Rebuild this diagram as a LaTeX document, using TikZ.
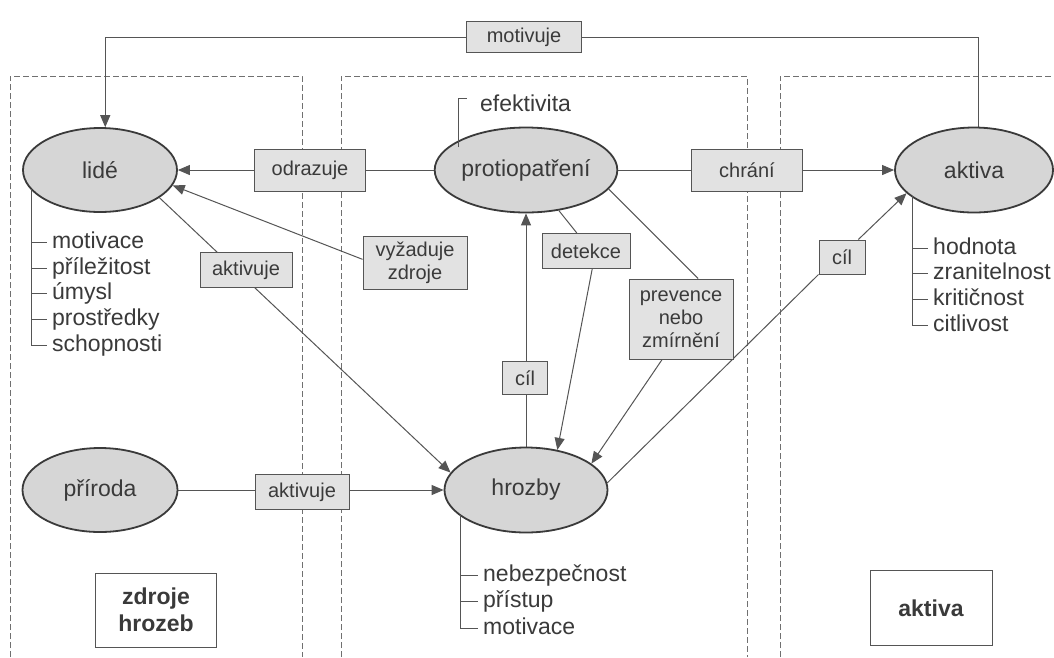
\documentclass[tikz,border=0pt]{standalone}
\usepackage{fontspec}
\setmainfont{Liberation Sans}
\usetikzlibrary{shapes.geometric,arrows.meta,backgrounds}
\definecolor{inkc}{HTML}{3A3A3A}
\definecolor{linec}{HTML}{555555}
\definecolor{ellfill}{HTML}{D6D6D6}
\definecolor{boxfill}{HTML}{E2E2E2}
\definecolor{dashc}{HTML}{707070}
\begin{document}
\begin{tikzpicture}[x=1pt,y=-1pt,
  ell/.style={ellipse,draw=inkc,line width=1.8pt,fill=ellfill,inner sep=0pt,text=inkc,font=\fontsize{23}{27}\selectfont},
  lbl/.style={rectangle,draw=linec,line width=1pt,fill=boxfill,inner sep=0pt,text=inkc,font=\fontsize{20}{23}\selectfont,align=center},
  ttl/.style={rectangle,draw=linec,line width=1pt,fill=white,inner sep=0pt,text=inkc,font=\fontsize{23}{27}\selectfont\bfseries,align=center},
  item/.style={anchor=base west,inner xsep=5pt,inner ysep=0pt,text=inkc,font=\fontsize{23}{27}\selectfont},
  conn/.style={draw=linec,line width=1pt},
  arr/.style={conn,-{Triangle[length=12pt,width=10pt]}},
  brk/.style={draw=linec,line width=1pt},
  zone/.style={draw=dashc,line width=0.9pt,dash pattern=on 6pt off 3pt}
]
\useasboundingbox (0,0) rectangle (1054,657);

% ellipses
\node[ell,minimum width=154pt,minimum height=84pt] (lide) at (100,170) {lidé};
\node[ell,minimum width=162pt,minimum height=85pt] (protio) at (526,170) {protiopatření};
\node[ell,minimum width=158pt,minimum height=85pt] (aktiva) at (974,170) {aktiva};
\node[ell,minimum width=163pt,minimum height=85pt] (hrozby) at (526,490) {hrozby};
\node[ell,minimum width=155pt,minimum height=84pt] (priroda) at (100,490) {příroda};

% label boxes
\node[lbl,minimum width=115pt,minimum height=31pt] (motivuje) at (524,37) {motivuje};
\node[lbl,minimum width=111pt,minimum height=42pt] (odrazuje) at (310,170) {odrazuje};
\node[lbl,minimum width=111pt,minimum height=42pt] (chrani) at (747,170) {chrání};
\node[lbl,minimum width=92pt,minimum height=35pt] (aktivuje1) at (246,270) {aktivuje};
\node[lbl,minimum width=104pt,minimum height=53pt] (vyzaduje) at (415,263) {vyžaduje\\zdroje};
\node[lbl,minimum width=88pt,minimum height=35pt] (detekce) at (586,251) {detekce};
\node[lbl,minimum width=104pt,minimum height=80pt] (prevence) at (681,319) {prevence\\nebo\\zmírnění};
\node[lbl,minimum width=45pt,minimum height=33pt] (cil1) at (525,378) {cíl};
\node[lbl,minimum width=46pt,minimum height=34pt] (cil2) at (842,257) {cíl};
\node[lbl,minimum width=94pt,minimum height=35pt] (aktivuje2) at (302,492) {aktivuje};

% title boxes
\node[ttl,minimum width=121pt,minimum height=74pt] (tzdroje) at (156,610) {zdroje\\hrozeb};
\node[ttl,minimum width=122pt,minimum height=75pt] (taktiva) at (931,608) {aktiva};

% attribute lists (baseline = tick height + 6)
\coordinate (lb) at (31,189);
\node[item] (l1) at (47,248) {motivace};
\node[item] (l2) at (47,274) {příležitost};
\node[item] (l3) at (47,299.5) {úmysl};
\node[item] (l4) at (47,325) {prostředky};
\node[item] (l5) at (47,351) {schopnosti};

\coordinate (ab) at (912,196);
\node[item] (a1) at (928,254) {hodnota};
\node[item] (a2) at (928,279.5) {zranitelnost};
\node[item] (a3) at (928,305) {kritičnost};
\node[item] (a4) at (928,331) {citlivost};

\coordinate (hb) at (460,515);
\node[item] (h1) at (478,581) {nebezpečnost};
\node[item] (h2) at (478,607.5) {přístup};
\node[item] (h3) at (478,634) {motivace};

\foreach \n in {l1,l2,l3,l4,l5,a1,a2,a3,a4,h1,h2,h3}
  \coordinate (\n t) at ([yshift=6pt]\n.base west);

\draw[brk] (lb) |- (l5t);
\foreach \n in {l1,l2,l3,l4} \draw[brk] (lb |- \n t) -- (\n t);
\draw[brk] (ab) |- (a4t);
\foreach \n in {a1,a2,a3} \draw[brk] (ab |- \n t) -- (\n t);
\draw[brk] (hb) |- (h3t);
\foreach \n in {h1,h2} \draw[brk] (hb |- \n t) -- (\n t);

\coordinate (eb) at (458,147);
\coordinate (etick) at (467,98);
\node[item] (efekt) at (475,111) {efektivita};
\draw[brk] (eb) |- (etick);

\begin{pgfonlayer}{background}
  \fill[white] (0,0) rectangle (1054,657);
  % zones
  \draw[zone] (10,657) -- (10,76) -- (302,76) -- (302,657);
  \draw[zone] (341,657) -- (341,76) -- (747,76) -- (747,657);
  \draw[zone] (780,657) -- (780,76) -- (1054,76);
  % connectors
  \draw[arr] (aktiva.84) |- (motivuje) -| (lide.83);
  \draw[arr] (protio.west) -- (lide.east);
  \draw[arr] (protio.east) -- (aktiva.west);
  \draw[arr] (lide.-25) -- (hrozby.167);
  \draw[arr] (vyzaduje.176) -- (lide.-12);
  \draw[conn] (protio.-51) -- (detekce.117);
  \draw[arr] (detekce.-71) -- (hrozby.52);
  \draw[conn] (protio.-13) -- (prevence.67);
  \draw[arr] (prevence.-115) -- (hrozby.22);
  \draw[arr] (hrozby.north) -- (protio.south);
  \draw[conn] (hrozby.5) -- (cil2.south west);
  \draw[arr] (cil2.47) -- (aktiva.199);
  \draw[arr] (priroda.east) -- (hrozby.west);
\end{pgfonlayer}
\end{tikzpicture}
\end{document}
